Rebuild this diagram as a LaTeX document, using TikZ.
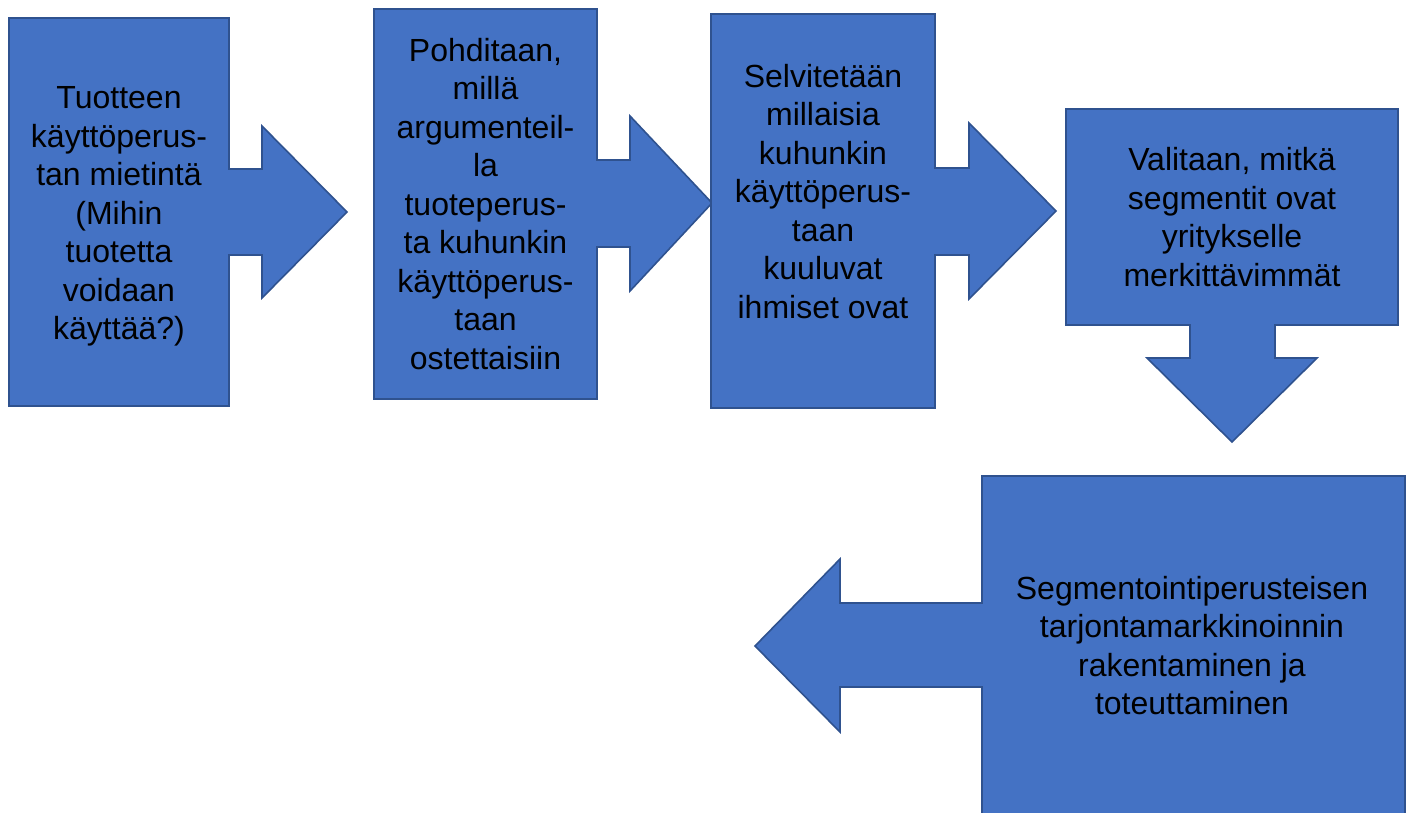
\documentclass[tikz,border=0pt]{standalone}
\usepackage{fontspec}
\setmainfont{Liberation Sans}
\definecolor{stepfill}{HTML}{4472C4}
\definecolor{stepline}{HTML}{2F528F}
\begin{document}
\begin{tikzpicture}[x=1pt,y=-1pt,
  callout/.style={fill=stepfill,draw=stepline,line width=1.6pt,line join=miter},
  steptext/.style={align=center,inner sep=0pt,text=black,
    font=\fontsize{32}{38.5}\selectfont}]
\useasboundingbox (0,0) rectangle (1413,812);
\clip (0,0) rectangle (1413,812);

% step 1: box with right arrow
\draw[callout] (9,18) -- (229,18) -- (229,169) -- (262,169) -- (262,126)
  -- (347,212) -- (262,298) -- (262,255) -- (229,255) -- (229,406)
  -- (9,406) -- cycle;
% step 2
\draw[callout] (374,9) -- (597,9) -- (597,160) -- (630,160) -- (630,116)
  -- (712,203) -- (630,291) -- (630,247) -- (597,247) -- (597,399)
  -- (374,399) -- cycle;
% step 3
\draw[callout] (711,14) -- (935,14) -- (935,168) -- (969,168) -- (969,123)
  -- (1056,211) -- (969,299) -- (969,255) -- (935,255) -- (935,408)
  -- (711,408) -- cycle;
% step 4: box with down arrow
\draw[callout] (1066,109) -- (1398,109) -- (1398,325) -- (1275,325)
  -- (1275,358) -- (1317,358) -- (1232,442) -- (1147,358) -- (1190,358)
  -- (1190,325) -- (1066,325) -- cycle;
% step 5: box with left arrow, running off the bottom edge
\draw[callout] (982,476) -- (1405,476) -- (1405,830) -- (982,830)
  -- (982,687) -- (840,687) -- (840,732) -- (755,646) -- (840,559)
  -- (840,603) -- (982,603) -- cycle;

\node[steptext] (t1) at (119,216.5) {Tuotteen\\käyttöperus-\\tan mietintä\\(Mihin\\tuotetta\\voidaan\\käyttää?)};
\node[steptext] (t2) at (485.5,204) {Pohditaan,\\millä\\argumenteil-\\la\\tuoteperus-\\ta kuhunkin\\käyttöperus-\\taan\\ostettaisiin};
\node[steptext] (t3) at (823,191.5) {Selvitetään\\millaisia\\kuhunkin\\käyttöperus-\\taan\\kuuluvat\\ihmiset ovat};
\node[steptext] (t4) at (1232,217) {Valitaan, mitkä\\segmentit ovat\\yritykselle\\merkittävimmät};
\node[steptext] (t5) at (1192,645.5) {Segmentointiperusteisen\\tarjontamarkkinoinnin\\rakentaminen ja\\toteuttaminen};
\end{tikzpicture}
\end{document}
